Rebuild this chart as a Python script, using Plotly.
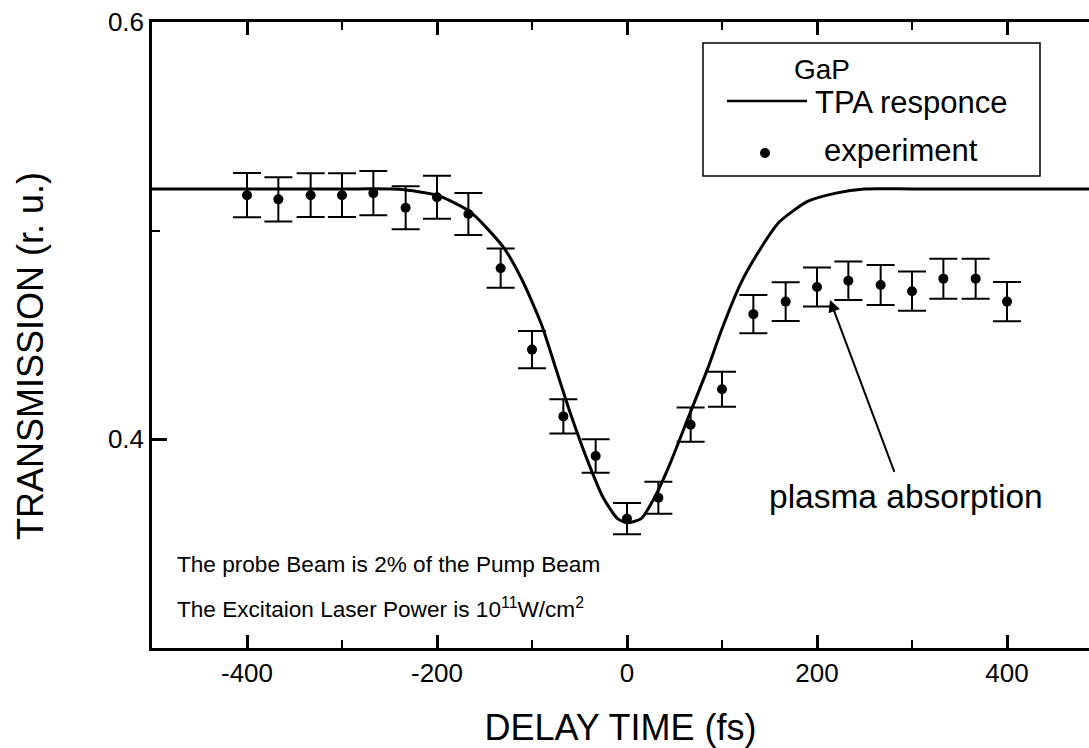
import plotly.graph_objects as go

# ---- data ----
delay_fs = [-400, -367, -333, -300, -267, -233, -200, -167, -133, -100, -67, -33,
            0, 33, 67, 100, 133, 167, 200, 233, 267, 300, 333, 367, 400]
transmission = [0.517, 0.515, 0.517, 0.517, 0.518, 0.511, 0.516, 0.508, 0.482, 0.443,
                0.411, 0.392, 0.362, 0.372, 0.407, 0.424, 0.460, 0.466, 0.473, 0.476,
                0.474, 0.471, 0.477, 0.477, 0.466]
trans_err = [0.0106, 0.0106, 0.0105, 0.0105, 0.0106, 0.0103, 0.0103, 0.0101, 0.0094, 0.0089,
             0.0082, 0.0080, 0.0075, 0.0077, 0.0082, 0.0084, 0.0092, 0.0093, 0.0094, 0.0092,
             0.0096, 0.0094, 0.0096, 0.0096, 0.0094]

tpa_x = [-500, -300, -240, -200, -165, -130, -110, -90, -75, -60, -40, -25, -10, 0,
         15, 30, 45, 65, 85, 100, 120, 140, 160, 190, 220, 250, 300, 500]
tpa_y = [0.520, 0.520, 0.5198, 0.517, 0.509, 0.492, 0.476, 0.455, 0.434, 0.413, 0.388,
         0.372, 0.362, 0.360, 0.362, 0.373, 0.388, 0.411, 0.434, 0.453, 0.475, 0.491,
         0.504, 0.514, 0.518, 0.520, 0.520, 0.520]

x_major = [-400, -200, 0, 200, 400]
x_major_text = ["-400", "-200", "0", "200", "400"]
x_minor = [-300, -100, 100, 300]
y_major = [0.4, 0.6]
y_major_text = ["0.4", "0.6"]
y_minor = [0.5]

FONT = "Liberation Sans, Arial, Helvetica, sans-serif"
X_RANGE = [-500, 486.3]

fig = go.Figure()
fig.add_trace(go.Scatter(
    x=tpa_x, y=tpa_y, mode="lines", name="TPA responce",
    line=dict(color="black", width=3, shape="spline", smoothing=0.6),
    showlegend=False))
fig.add_trace(go.Scatter(
    x=delay_fs, y=transmission, mode="markers", name="experiment",
    marker=dict(color="black", size=10),
    error_y=dict(type="data", array=trans_err, visible=True,
                 color="black", thickness=2, width=14),
    showlegend=False))

W, H = 1089, 748
L, T, B = 152, 22, 100
PW, PH = W - L, H - T - B


def px(xp):
    return (xp - L) / PW


def py(yp):
    return (H - B - yp) / PH


shapes = [
    dict(type="rect", xref="paper", yref="paper", x0=px(703), x1=px(1040), y0=py(176), y1=py(43),
         line=dict(color="black", width=1.5), fillcolor="white", layer="above"),
    dict(type="line", xref="paper", yref="paper", x0=px(727), x1=px(807), y0=py(101), y1=py(101),
         line=dict(color="black", width=2.5)),
    dict(type="circle", xref="paper", yref="paper", x0=px(760), x1=px(770), y0=py(158), y1=py(148),
         fillcolor="black", line=dict(color="black", width=0)),
]

annotations = [
    dict(text="GaP", xref="paper", yref="paper", x=px(822), y=py(69), xanchor="center", yanchor="middle",
         showarrow=False, font=dict(size=28, family=FONT, color="black")),
    dict(text="TPA responce", xref="paper", yref="paper", x=px(813), y=py(102), xanchor="left", yanchor="middle",
         showarrow=False, font=dict(size=31, family=FONT, color="black")),
    dict(text="experiment", xref="paper", yref="paper", x=px(822), y=py(150), xanchor="left", yanchor="middle",
         showarrow=False, font=dict(size=31, family=FONT, color="black")),
    dict(text="", x=213.7, y=0.4668, ax=282, ay=0.3837, xref="x", yref="y", axref="x", ayref="y",
         showarrow=True, arrowhead=2, arrowsize=1.2, arrowwidth=2, arrowcolor="black", standoff=0),
    dict(text="plasma absorption", x=147.4, y=0.3726, xref="x", yref="y", xanchor="left", yanchor="middle",
         showarrow=False, font=dict(size=33.5, family=FONT, color="black")),
    dict(text="The probe Beam is 2% of the Pump Beam", xref="paper", yref="paper", x=px(175), y=py(564),
         xanchor="left", yanchor="middle", showarrow=False, font=dict(size=22.6, family=FONT, color="black")),
    dict(text="The Excitaion Laser Power is 10<sup>11</sup>W/cm<sup>2</sup>", xref="paper", yref="paper",
         x=px(175), y=py(608), xanchor="left", yanchor="middle", showarrow=False,
         font=dict(size=22.6, family=FONT, color="black")),
    dict(text="TRANSMISSION (r. u.)", xref="paper", yref="paper", x=px(31), y=py(356), xanchor="center",
         yanchor="middle", textangle=-90, showarrow=False, font=dict(size=36, family=FONT, color="black")),
]

fig.update_layout(
    width=W, height=H,
    margin=dict(l=L, r=0, t=T, b=B, pad=0),
    paper_bgcolor="white", plot_bgcolor="white",
    font=dict(family=FONT, color="black"),
    shapes=shapes, annotations=annotations,
)
fig.update_xaxes(
    range=X_RANGE, tickmode="array", tickvals=x_major, ticktext=x_major_text,
    ticks="inside", ticklen=13, tickwidth=2.5, tickcolor="black",
    showline=True, linecolor="black", linewidth=2.5, mirror="ticks",
    showgrid=False, zeroline=False, tickfont=dict(size=26, family=FONT),
    minor=dict(tickvals=x_minor, ticks="inside", ticklen=8, tickwidth=2, tickcolor="black"),
    title=dict(text="DELAY TIME (fs)", font=dict(size=36, family=FONT), standoff=28))
fig.update_yaxes(
    range=[0.3, 0.6], tickmode="array", tickvals=y_major, ticktext=y_major_text,
    ticks="inside", ticklen=15, tickwidth=2.5, tickcolor="black",
    showline=True, linecolor="black", linewidth=2.5, mirror=False,
    showgrid=False, zeroline=False, tickfont=dict(size=26, family=FONT),
    minor=dict(tickvals=y_minor, ticks="inside", ticklen=8, tickwidth=2, tickcolor="black"))

fig.write_html("out.html")
